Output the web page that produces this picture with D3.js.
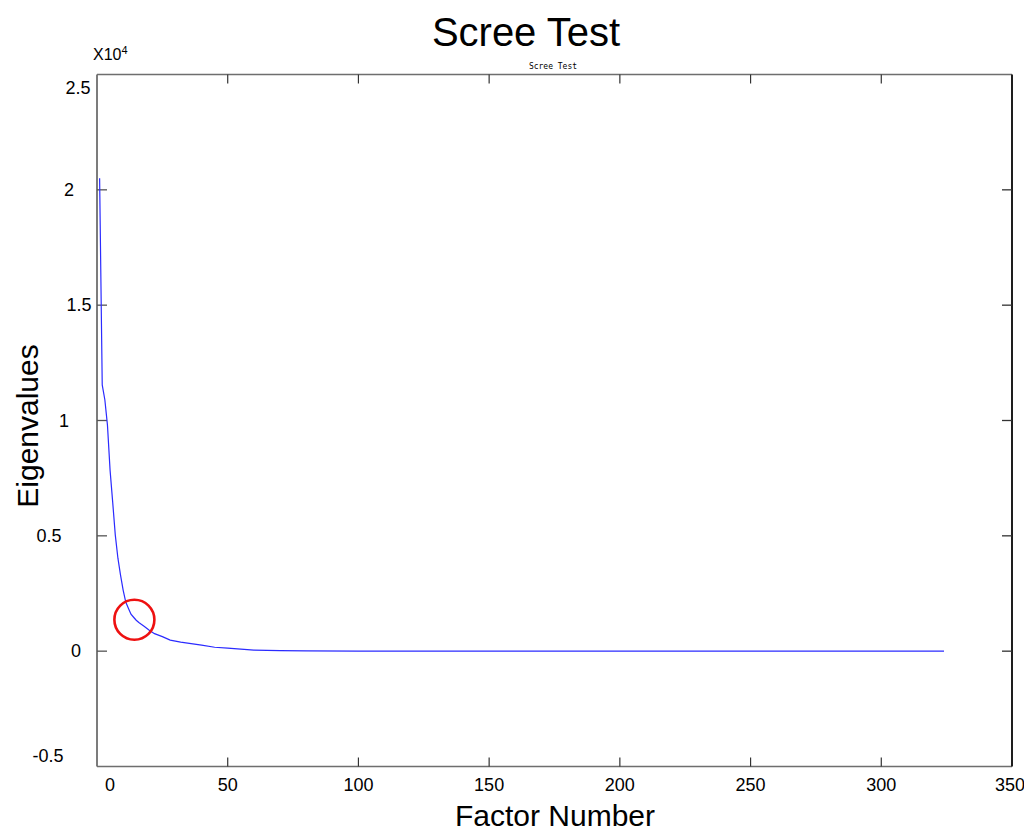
<!DOCTYPE html>
<html>
<head>
<meta charset="utf-8">
<script src="https://d3js.org/d3.v7.min.js"></script>
<style>
  html, body { margin: 0; padding: 0; background: #fff; }
  svg { display: block; font-family: Arial, "Liberation Sans", sans-serif; }
</style>
</head>
<body>
<svg id="chart" width="1024" height="831"></svg>
<script>
// ---- data ----
const factors = [1, 2, 3, 4, 5, 6, 7, 8, 9, 10, 11, 12, 13, 14, 15, 16, 18, 20, 22, 25, 28, 32, 36, 40, 45, 50, 60, 70, 80, 100, 150, 200, 250, 300, 324];
const eigenvalues = [20500, 11540, 10900, 9800, 7850, 6460, 5030, 4030, 3300, 2650, 2130, 1860, 1600, 1470, 1340, 1240, 1080, 910, 760, 630, 480, 390, 325, 260, 170, 130, 45, 25, 10, 5, 2, 1, 0.5, 0.2, 0.1];
const xTicks = [0, 50, 100, 150, 200, 250, 300, 350];
const yTicks = [-0.5, 0, 0.5, 1, 1.5, 2, 2.5];
const yTickLabels = ["-0.5", "0", "0.5", "1", "1.5", "2", "2.5"];
const highlight = { factor: 14.3, value: 1360 };   // red circle (elbow)
const yUnit = 1e4;
const titleText = "Scree Test";
const subTitleText = "Scree Test";
const xLabelText = "Factor Number";
const yLabelText = "Eigenvalues";

// ---- layout ----
const L = 97, R = 1012, T = 74.5, B = 766.5;
// horizontal centres of the y tick labels in the reference (irregular)
const yLabelX = { "-0.5": 48, "0": 76, "0.5": 49, "1": 64, "1.5": 79, "2": 69, "2.5": 78 };

const svg = d3.select("#chart");
const x = d3.scaleLinear().domain([0, 350]).range([L, R]);
const y = d3.scaleLinear().domain([-0.5, 2.5]).range([B, T]);

// frame
const frameGray = "#6e6e6e";
svg.append("line").attr("x1", L).attr("x2", R).attr("y1", T).attr("y2", T).attr("stroke", frameGray).attr("stroke-width", 1.5);
svg.append("line").attr("x1", L).attr("x2", R).attr("y1", B).attr("y2", B).attr("stroke", frameGray).attr("stroke-width", 1.5);
svg.append("line").attr("x1", L).attr("x2", L).attr("y1", T).attr("y2", B).attr("stroke", frameGray).attr("stroke-width", 1.8);
svg.append("line").attr("x1", R).attr("x2", R).attr("y1", T).attr("y2", B).attr("stroke", "#1e1e1e").attr("stroke-width", 2);

// x ticks (top & bottom, inward)
const innerX = xTicks.filter(d => d > 0 && d < 350);
svg.append("g").selectAll("line.tt").data(innerX).join("line")
  .attr("x1", d => x(d)).attr("x2", d => x(d)).attr("y1", T).attr("y2", T + 9)
  .attr("stroke", "#333").attr("stroke-width", 1.2);
svg.append("g").selectAll("line.tb").data(innerX).join("line")
  .attr("x1", d => x(d)).attr("x2", d => x(d)).attr("y1", B).attr("y2", B - 9)
  .attr("stroke", "#333").attr("stroke-width", 1.2);

// y ticks (left & right, inward)
const innerY = yTicks.filter(d => d > -0.5 && d < 2.5);
svg.append("g").selectAll("line").data(innerY).join("line")
  .attr("x1", L).attr("x2", L + 10).attr("y1", d => y(d)).attr("y2", d => y(d))
  .attr("stroke", "#555").attr("stroke-width", 1.3);
svg.append("g").selectAll("line").data(innerY).join("line")
  .attr("x1", R).attr("x2", R - 10).attr("y1", d => y(d)).attr("y2", d => y(d))
  .attr("stroke", "#333").attr("stroke-width", 1.3);

// x tick labels
svg.append("g").selectAll("text").data(xTicks).join("text")
  .attr("x", (d, i) => x(d) + (i === 0 ? 13 : (i === xTicks.length - 1 ? -2 : 0)))
  .attr("y", 791)
  .attr("text-anchor", "middle")
  .attr("font-size", 18)
  .attr("fill", "#000")
  .text(d => d);

// y tick labels
svg.append("g").selectAll("text").data(yTicks).join("text")
  .attr("x", (d, i) => yLabelX[yTickLabels[i]])
  .attr("y", d => Math.min(Math.max(y(d), T + 13), B - 11) + 6)
  .attr("text-anchor", "middle")
  .attr("font-size", 18)
  .attr("fill", "#000")
  .text((d, i) => yTickLabels[i]);

// exponent label
const ex = svg.append("text").attr("x", 93).attr("y", 60).attr("font-size", 16).attr("fill", "#000");
ex.append("tspan").text("X10");
ex.append("tspan").attr("font-size", 11).attr("dy", -6).text("4");

// titles
svg.append("text").attr("x", 526).attr("y", 46).attr("text-anchor", "middle")
  .attr("font-size", 40).attr("fill", "#000").text(titleText);
svg.append("text").attr("x", 553).attr("y", 69).attr("text-anchor", "middle")
  .attr("font-size", 8).attr("font-family", "DejaVu Sans Mono, monospace").attr("fill", "#000").text(subTitleText);
svg.append("text").attr("x", 555).attr("y", 826).attr("text-anchor", "middle")
  .attr("font-size", 30).attr("fill", "#000").text(xLabelText);
svg.append("text").attr("transform", "translate(38,426) rotate(-90)").attr("text-anchor", "middle")
  .attr("font-size", 30).attr("fill", "#000").text(yLabelText);

// data line
const pts = factors.map((f, i) => [f, eigenvalues[i] / yUnit]);
svg.append("path").datum(pts)
  .attr("fill", "none").attr("stroke", "#2b2bff").attr("stroke-width", 1.2)
  .attr("d", d3.line().x(d => x(d[0])).y(d => y(d[1])));

// highlight circle
svg.append("circle")
  .attr("cx", x(highlight.factor)).attr("cy", y(highlight.value / yUnit)).attr("r", 20)
  .attr("fill", "none").attr("stroke", "#ee1111").attr("stroke-width", 2.6);
</script>
</body>
</html>
